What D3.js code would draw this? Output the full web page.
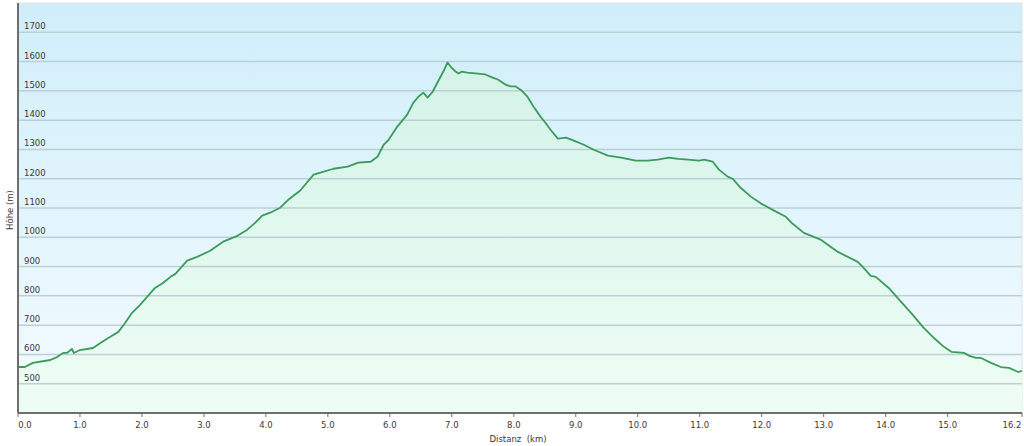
<!DOCTYPE html>
<html>
<head>
<meta charset="utf-8">
<script src="https://cdn.jsdelivr.net/npm/d3@7"></script>
<style>
  body { margin: 0; background: #fff; }
  text { font-family: Verdana, "DejaVu Sans", sans-serif; fill: #3a3a3a; }
</style>
</head>
<body>
<div id="chart"></div>
<script>
// distance along the track (km) and elevation (m)
const distKm = [0.00, 0.11, 0.24, 0.52, 0.63, 0.73, 0.79, 0.87, 0.90, 1.00, 1.21, 1.36, 1.49, 1.62, 1.73, 1.84, 1.97,
  2.21, 2.34, 2.46, 2.54, 2.73, 2.89, 3.10, 3.31, 3.54, 3.70, 3.83, 3.94, 4.07, 4.23, 4.36, 4.55, 4.77, 4.88,
  5.09, 5.32, 5.49, 5.69, 5.80, 5.90, 5.98, 6.12, 6.28, 6.38, 6.46, 6.54, 6.61, 6.69, 6.82, 6.88, 6.93, 6.98,
  7.06, 7.11, 7.16, 7.25, 7.42, 7.54, 7.66, 7.75, 7.87, 7.95, 8.03, 8.11, 8.22, 8.32, 8.43, 8.51, 8.59, 8.71,
  8.84, 8.97, 9.13, 9.29, 9.52, 9.73, 9.97, 10.16, 10.32, 10.50, 10.65, 10.81, 10.99, 11.07, 11.21, 11.31,
  11.45, 11.53, 11.66, 11.83, 11.99, 12.20, 12.39, 12.50, 12.68, 12.96, 13.23, 13.55, 13.63, 13.76, 13.84,
  14.05, 14.22, 14.41, 14.60, 14.78, 14.94, 15.06, 15.27, 15.35, 15.46, 15.54, 15.70, 15.86, 15.99, 16.14, 16.20];
const elevM = [557, 557, 571, 581, 591, 605, 605, 619, 605, 615, 622, 643, 660, 677, 708, 742, 769,
  827, 844, 865, 875, 920, 933, 954, 985, 1005, 1026, 1050, 1074, 1084, 1101, 1128, 1159, 1214, 1221,
  1234, 1241, 1255, 1258, 1275, 1316, 1333, 1378, 1419, 1460, 1480, 1494, 1477, 1497, 1549, 1573, 1597, 1583,
  1566, 1559, 1566, 1562, 1559, 1556, 1545, 1538, 1521, 1515, 1515, 1504, 1480, 1446, 1412, 1391, 1368, 1337,
  1340, 1330, 1316, 1299, 1279, 1272, 1262, 1262, 1265, 1272, 1268, 1265, 1262, 1265, 1258, 1231,
  1207, 1200, 1169, 1138, 1115, 1091, 1070, 1046, 1015, 991, 950, 916, 899, 868, 865,
  827, 786, 742, 694, 656, 626, 609, 605, 595, 588, 588, 571, 557, 554, 540, 544];

const yTicks = [500, 600, 700, 800, 900, 1000, 1100, 1200, 1300, 1400, 1500, 1600, 1700];
const xTicks = [0, 1, 2, 3, 4, 5, 6, 7, 8, 9, 10, 11, 12, 13, 14, 15, 16.2];

const W = 1024, H = 446;
const margin = { top: 3, right: 2, bottom: 33, left: 18 };
const width = W - margin.left - margin.right;
const height = H - margin.top - margin.bottom;

const data = distKm.map((d, i) => ({ d: d, e: elevM[i] }));

const x = d3.scaleLinear().domain([0, 16.2]).range([0, width]);
const y = d3.scaleLinear().domain([400, 1800]).range([height, 0]);

const svg = d3.select("#chart").append("svg")
  .attr("width", W)
  .attr("height", H);

const defs = svg.append("defs");
const bg = defs.append("linearGradient").attr("id", "bg")
  .attr("x1", 0).attr("y1", 0).attr("x2", 0).attr("y2", 1);
bg.append("stop").attr("offset", "0%").attr("stop-color", "#cfeefa");
bg.append("stop").attr("offset", "100%").attr("stop-color", "#f4fbff");

const fillGrad = defs.append("linearGradient").attr("id", "fillGrad")
  .attr("gradientUnits", "userSpaceOnUse")
  .attr("x1", 0).attr("y1", y(1600)).attr("x2", 0).attr("y2", y(400));
fillGrad.append("stop").attr("offset", "0%").attr("stop-color", "#d4f3e9");
fillGrad.append("stop").attr("offset", "100%").attr("stop-color", "#eefdf4");

const g = svg.append("g")
  .attr("transform", "translate(" + margin.left + "," + margin.top + ")");

// plot background
g.append("rect")
  .attr("width", width)
  .attr("height", height)
  .attr("fill", "url(#bg)")
  .attr("stroke", "#dde3e6")
  .attr("stroke-width", 1);

// area under profile
g.append("path")
  .datum(data)
  .attr("fill", "url(#fillGrad)")
  .attr("d", d3.area().x(p => x(p.d)).y0(height).y1(p => y(p.e)));

// horizontal grid
g.selectAll(".grid")
  .data(yTicks)
  .enter().append("line")
  .attr("x1", 0).attr("x2", width)
  .attr("y1", d => y(d)).attr("y2", d => y(d))
  .attr("stroke", "#bccfd7")
  .attr("stroke-width", 1.5);

// y labels sit inside the plot just above their grid line
g.selectAll(".ylab")
  .data(yTicks)
  .enter().append("text")
  .attr("x", 6)
  .attr("y", d => y(d) - 3)
  .attr("font-size", "8.5px")
  .text(d => d);

// profile line
g.append("path")
  .datum(data)
  .attr("fill", "none")
  .attr("stroke", "#3c9b5b")
  .attr("stroke-width", 1.8)
  .attr("stroke-linejoin", "round")
  .attr("d", d3.line().x(p => x(p.d)).y(p => y(p.e)));

// axes lines
g.append("line").attr("x1", 0).attr("x2", 0).attr("y1", 0).attr("y2", height)
  .attr("stroke", "#6e6e6e").attr("stroke-width", 2);
g.append("line").attr("x1", 0).attr("x2", width).attr("y1", height).attr("y2", height)
  .attr("stroke", "#6e6e6e").attr("stroke-width", 2);

// x ticks
g.selectAll(".xtick")
  .data(xTicks)
  .enter().append("line")
  .attr("x1", d => x(d)).attr("x2", d => x(d))
  .attr("y1", height).attr("y2", height + 4)
  .attr("stroke", "#6e6e6e");

g.selectAll(".xlab")
  .data(xTicks)
  .enter().append("text")
  .attr("x", d => d === 0 ? x(d) + 7 : (d === 16.2 ? x(d) - 10 : x(d)))
  .attr("y", height + 15)
  .attr("text-anchor", "middle")
  .attr("font-size", "8.5px")
  .text(d => d.toFixed(1));

// axis titles
svg.append("text")
  .attr("x", margin.left + width / 2 - 2)
  .attr("y", H - 4)
  .attr("text-anchor", "middle")
  .attr("font-size", "8.5px")
  .attr("xml:space", "preserve")
  .text("Distanz  (km)");

svg.append("text")
  .attr("transform", "translate(13," + (margin.top + height / 2 + 2) + ") rotate(-90)")
  .attr("text-anchor", "middle")
  .attr("font-size", "8.5px")
  .text("Höhe (m)");
</script>
</body>
</html>
